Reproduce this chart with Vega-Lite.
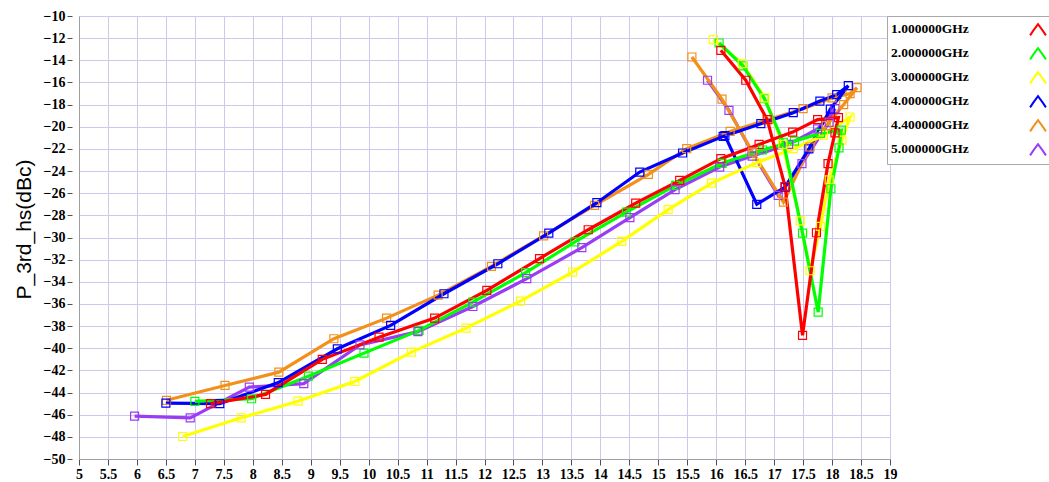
{
 "$schema": "https://vega.github.io/schema/vega-lite/v6.json",
 "width": 811, "height": 443,
 "autosize": {"type": "none"},
 "padding": {"left": 79, "top": 16, "right": 159, "bottom": 23},
 "background": "white",
 "config": {
  "view": {"stroke": "#a0a0a0"},
  "axis": {
   "grid": true, "gridColor": "#cfc8ee", "gridWidth": 1, "gridOpacity": 1,
   "domainColor": "#a0a0a0", "tickColor": "#505050",
   "labelFont": "Liberation Serif", "labelFontWeight": "bold", "labelFontSize": 14, "labelColor": "black",
   "labelOverlap": false, "labelFlush": false
  }
 },
 "data": {"values": [
  {"f":"5.000000GHz","i":1,"x":5.96,"y":-46.13},{"f":"5.000000GHz","i":2,"x":6.92,"y":-46.28},{"f":"5.000000GHz","i":3,"x":7.94,"y":-43.51},{"f":"5.000000GHz","i":4,"x":8.88,"y":-43.2},{"f":"5.000000GHz","i":5,"x":9.85,"y":-39.7},{"f":"5.000000GHz","i":6,"x":10.85,"y":-38.5},{"f":"5.000000GHz","i":7,"x":11.8,"y":-36.23},{"f":"5.000000GHz","i":8,"x":12.73,"y":-33.72},{"f":"5.000000GHz","i":9,"x":13.68,"y":-30.92},{"f":"5.000000GHz","i":10,"x":14.51,"y":-28.2},{"f":"5.000000GHz","i":11,"x":15.29,"y":-25.68},{"f":"5.000000GHz","i":12,"x":16.06,"y":-23.64},{"f":"5.000000GHz","i":13,"x":16.62,"y":-22.65},{"f":"5.000000GHz","i":14,"x":17.25,"y":-21.6},{"f":"5.000000GHz","i":15,"x":17.75,"y":-20.2},{"f":"5.000000GHz","i":16,"x":18.05,"y":-18.37},{"f":"5.000000GHz","i":17,"x":17.95,"y":-19.6},{"f":"5.000000GHz","i":18,"x":17.48,"y":-23.33},{"f":"5.000000GHz","i":19,"x":17.07,"y":-26.2},{"f":"5.000000GHz","i":20,"x":16.62,"y":-22.3},{"f":"5.000000GHz","i":21,"x":16.22,"y":-18.52},{"f":"5.000000GHz","i":22,"x":15.85,"y":-15.8},
  {"f":"4.400000GHz","i":1,"x":6.51,"y":-44.7},{"f":"4.400000GHz","i":2,"x":7.52,"y":-43.36},{"f":"4.400000GHz","i":3,"x":8.45,"y":-42.16},{"f":"4.400000GHz","i":4,"x":9.4,"y":-39.14},{"f":"4.400000GHz","i":5,"x":10.31,"y":-37.28},{"f":"4.400000GHz","i":6,"x":11.2,"y":-35.2},{"f":"4.400000GHz","i":7,"x":12.12,"y":-32.6},{"f":"4.400000GHz","i":8,"x":13.02,"y":-29.85},{"f":"4.400000GHz","i":9,"x":13.9,"y":-27.1},{"f":"4.400000GHz","i":10,"x":14.83,"y":-24.3},{"f":"4.400000GHz","i":11,"x":15.49,"y":-21.98},{"f":"4.400000GHz","i":12,"x":16.24,"y":-20.42},{"f":"4.400000GHz","i":13,"x":16.9,"y":-19.35},{"f":"4.400000GHz","i":14,"x":17.5,"y":-18.37},{"f":"4.400000GHz","i":15,"x":18.0,"y":-17.4},{"f":"4.400000GHz","i":16,"x":18.31,"y":-17.0},{"f":"4.400000GHz","i":17,"x":18.43,"y":-16.47},{"f":"4.400000GHz","i":18,"x":18.2,"y":-18.0},{"f":"4.400000GHz","i":19,"x":17.9,"y":-19.9},{"f":"4.400000GHz","i":20,"x":17.62,"y":-21.83},{"f":"4.400000GHz","i":21,"x":17.16,"y":-26.8},{"f":"4.400000GHz","i":22,"x":16.63,"y":-22.3},{"f":"4.400000GHz","i":23,"x":16.1,"y":-17.5},{"f":"4.400000GHz","i":24,"x":15.58,"y":-13.7},
  {"f":"4.000000GHz","i":1,"x":6.5,"y":-44.96},{"f":"4.000000GHz","i":2,"x":7.43,"y":-45.0},{"f":"4.000000GHz","i":3,"x":8.44,"y":-43.1},{"f":"4.000000GHz","i":4,"x":9.46,"y":-40.05},{"f":"4.000000GHz","i":5,"x":10.38,"y":-37.94},{"f":"4.000000GHz","i":6,"x":11.3,"y":-35.08},{"f":"4.000000GHz","i":7,"x":12.23,"y":-32.37},{"f":"4.000000GHz","i":8,"x":13.11,"y":-29.6},{"f":"4.000000GHz","i":9,"x":13.94,"y":-26.86},{"f":"4.000000GHz","i":10,"x":14.68,"y":-24.09},{"f":"4.000000GHz","i":11,"x":15.42,"y":-22.37},{"f":"4.000000GHz","i":12,"x":16.12,"y":-20.87},{"f":"4.000000GHz","i":13,"x":16.77,"y":-19.72},{"f":"4.000000GHz","i":14,"x":17.33,"y":-18.73},{"f":"4.000000GHz","i":15,"x":17.79,"y":-17.68},{"f":"4.000000GHz","i":16,"x":18.08,"y":-17.1},{"f":"4.000000GHz","i":17,"x":18.28,"y":-16.29},{"f":"4.000000GHz","i":18,"x":17.97,"y":-18.4},{"f":"4.000000GHz","i":19,"x":17.6,"y":-22.0},{"f":"4.000000GHz","i":20,"x":17.19,"y":-25.45},{"f":"4.000000GHz","i":21,"x":16.7,"y":-27.0},{"f":"4.000000GHz","i":22,"x":16.15,"y":-20.8},
  {"f":"3.000000GHz","i":1,"x":6.79,"y":-47.97},{"f":"3.000000GHz","i":2,"x":7.8,"y":-46.28},{"f":"3.000000GHz","i":3,"x":8.78,"y":-44.78},{"f":"3.000000GHz","i":4,"x":9.76,"y":-43.0},{"f":"3.000000GHz","i":5,"x":10.74,"y":-40.35},{"f":"3.000000GHz","i":6,"x":11.68,"y":-38.18},{"f":"3.000000GHz","i":7,"x":12.62,"y":-35.75},{"f":"3.000000GHz","i":8,"x":13.52,"y":-33.13},{"f":"3.000000GHz","i":9,"x":14.37,"y":-30.35},{"f":"3.000000GHz","i":10,"x":15.17,"y":-27.49},{"f":"3.000000GHz","i":11,"x":15.92,"y":-25.09},{"f":"3.000000GHz","i":12,"x":16.7,"y":-23.24},{"f":"3.000000GHz","i":13,"x":17.33,"y":-21.98},{"f":"3.000000GHz","i":14,"x":17.85,"y":-20.78},{"f":"3.000000GHz","i":15,"x":18.31,"y":-19.12},{"f":"3.000000GHz","i":16,"x":18.17,"y":-21.2},{"f":"3.000000GHz","i":17,"x":17.95,"y":-24.8},{"f":"3.000000GHz","i":18,"x":17.8,"y":-29.0},{"f":"3.000000GHz","i":19,"x":17.62,"y":-33.0},{"f":"3.000000GHz","i":20,"x":17.45,"y":-28.5},{"f":"3.000000GHz","i":21,"x":17.15,"y":-21.6},{"f":"3.000000GHz","i":22,"x":16.84,"y":-17.4},{"f":"3.000000GHz","i":23,"x":16.45,"y":-14.3},{"f":"3.000000GHz","i":24,"x":15.95,"y":-12.13},
  {"f":"2.000000GHz","i":1,"x":7.0,"y":-44.8},{"f":"2.000000GHz","i":2,"x":7.98,"y":-44.56},{"f":"2.000000GHz","i":3,"x":8.96,"y":-42.52},{"f":"2.000000GHz","i":4,"x":9.92,"y":-40.44},{"f":"2.000000GHz","i":5,"x":10.87,"y":-38.39},{"f":"2.000000GHz","i":6,"x":11.8,"y":-35.84},{"f":"2.000000GHz","i":7,"x":12.71,"y":-33.18},{"f":"2.000000GHz","i":8,"x":13.56,"y":-30.4},{"f":"2.000000GHz","i":9,"x":14.45,"y":-27.7},{"f":"2.000000GHz","i":10,"x":15.3,"y":-25.3},{"f":"2.000000GHz","i":11,"x":16.1,"y":-23.3},{"f":"2.000000GHz","i":12,"x":16.8,"y":-22.1},{"f":"2.000000GHz","i":13,"x":17.35,"y":-21.3},{"f":"2.000000GHz","i":14,"x":17.8,"y":-20.6},{"f":"2.000000GHz","i":15,"x":18.16,"y":-20.3},{"f":"2.000000GHz","i":16,"x":18.12,"y":-21.9},{"f":"2.000000GHz","i":17,"x":17.98,"y":-25.6},{"f":"2.000000GHz","i":18,"x":17.76,"y":-36.74},{"f":"2.000000GHz","i":19,"x":17.49,"y":-29.6},{"f":"2.000000GHz","i":20,"x":17.16,"y":-21.4},{"f":"2.000000GHz","i":21,"x":16.83,"y":-17.46},{"f":"2.000000GHz","i":22,"x":16.46,"y":-14.5},{"f":"2.000000GHz","i":23,"x":16.05,"y":-12.44},
  {"f":"1.000000GHz","i":1,"x":7.27,"y":-45.0},{"f":"1.000000GHz","i":2,"x":8.22,"y":-44.17},{"f":"1.000000GHz","i":3,"x":9.2,"y":-41.0},{"f":"1.000000GHz","i":4,"x":10.18,"y":-39.0},{"f":"1.000000GHz","i":5,"x":11.14,"y":-37.28},{"f":"1.000000GHz","i":6,"x":12.04,"y":-34.78},{"f":"1.000000GHz","i":7,"x":12.95,"y":-31.9},{"f":"1.000000GHz","i":8,"x":13.79,"y":-29.3},{"f":"1.000000GHz","i":9,"x":14.61,"y":-26.9},{"f":"1.000000GHz","i":10,"x":15.37,"y":-24.84},{"f":"1.000000GHz","i":11,"x":16.08,"y":-22.88},{"f":"1.000000GHz","i":12,"x":16.74,"y":-21.6},{"f":"1.000000GHz","i":13,"x":17.32,"y":-20.48},{"f":"1.000000GHz","i":14,"x":17.75,"y":-19.36},{"f":"1.000000GHz","i":15,"x":18.11,"y":-19.18},{"f":"1.000000GHz","i":16,"x":18.05,"y":-20.56},{"f":"1.000000GHz","i":17,"x":17.93,"y":-23.33},{"f":"1.000000GHz","i":18,"x":17.73,"y":-29.57},{"f":"1.000000GHz","i":19,"x":17.49,"y":-38.84},{"f":"1.000000GHz","i":20,"x":17.19,"y":-25.4},{"f":"1.000000GHz","i":21,"x":16.88,"y":-19.36},{"f":"1.000000GHz","i":22,"x":16.51,"y":-15.8},{"f":"1.000000GHz","i":23,"x":16.08,"y":-13.1}
 ]},
 "encoding": {
  "x": {"field": "x", "type": "quantitative",
   "scale": {"domain": [5, 19], "nice": false, "zero": false},
   "axis": {"title": null, "values": [5,5.5,6,6.5,7,7.5,8,8.5,9,9.5,10,10.5,11,11.5,12,12.5,13,13.5,14,14.5,15,15.5,16,16.5,17,17.5,18,18.5,19],
    "format": ".1~f", "tickSize": 6, "labelPadding": 2}},
  "y": {"field": "y", "type": "quantitative",
   "scale": {"domain": [-50, -10], "nice": false, "zero": false},
   "axis": {"title": "P_3rd_hs(dBc)", "values": [-50,-48,-46,-44,-42,-40,-38,-36,-34,-32,-30,-28,-26,-24,-22,-20,-18,-16,-14,-12,-10],
    "format": "d", "tickSize": 12, "tickDash": [0, 7, 5, 100], "labelPadding": 2,
    "titleFont": "Liberation Sans", "titleFontSize": 21, "titleFontWeight": "normal", "titleColor": "black",
    "titleX": -45, "titleY": 213, "titleAngle": -90, "titleAlign": "center", "titleBaseline": "bottom"}},
  "color": {"field": "f", "type": "nominal",
   "scale": {"domain": ["1.000000GHz","2.000000GHz","3.000000GHz","4.000000GHz","4.400000GHz","5.000000GHz"],
    "range": ["#ff0000","#00ff00","#ffff00","#0000ff","#f39019","#9b3cf5"]},
   "legend": {"orient": "none", "legendX": 808, "legendY": 0, "title": null, "direction": "vertical",
    "padding": 4, "rowPadding": 4, "fillColor": "white", "strokeColor": "#a8a8a8",
    "symbolType": "M-1,0.8L-0.6,0.2L0,-0.6L0.6,0.2L1,0.8", "symbolSize": 250, "symbolStrokeWidth": 2,
    "symbolFillColor": "transparent", "symbolOffset": 138, "labelOffset": -156,
    "labelFont": "Liberation Serif", "labelFontWeight": "bold", "labelFontSize": 13.5, "labelColor": "black", "labelLimit": 0}},
  "order": {"field": "i", "type": "quantitative"}
 },
 "layer": [
  {"mark": {"type": "line", "strokeWidth": 3.2}},
  {"mark": {"type": "point", "shape": "square", "filled": false, "size": 64, "strokeWidth": 1.2, "opacity": 1}}
 ]
}
